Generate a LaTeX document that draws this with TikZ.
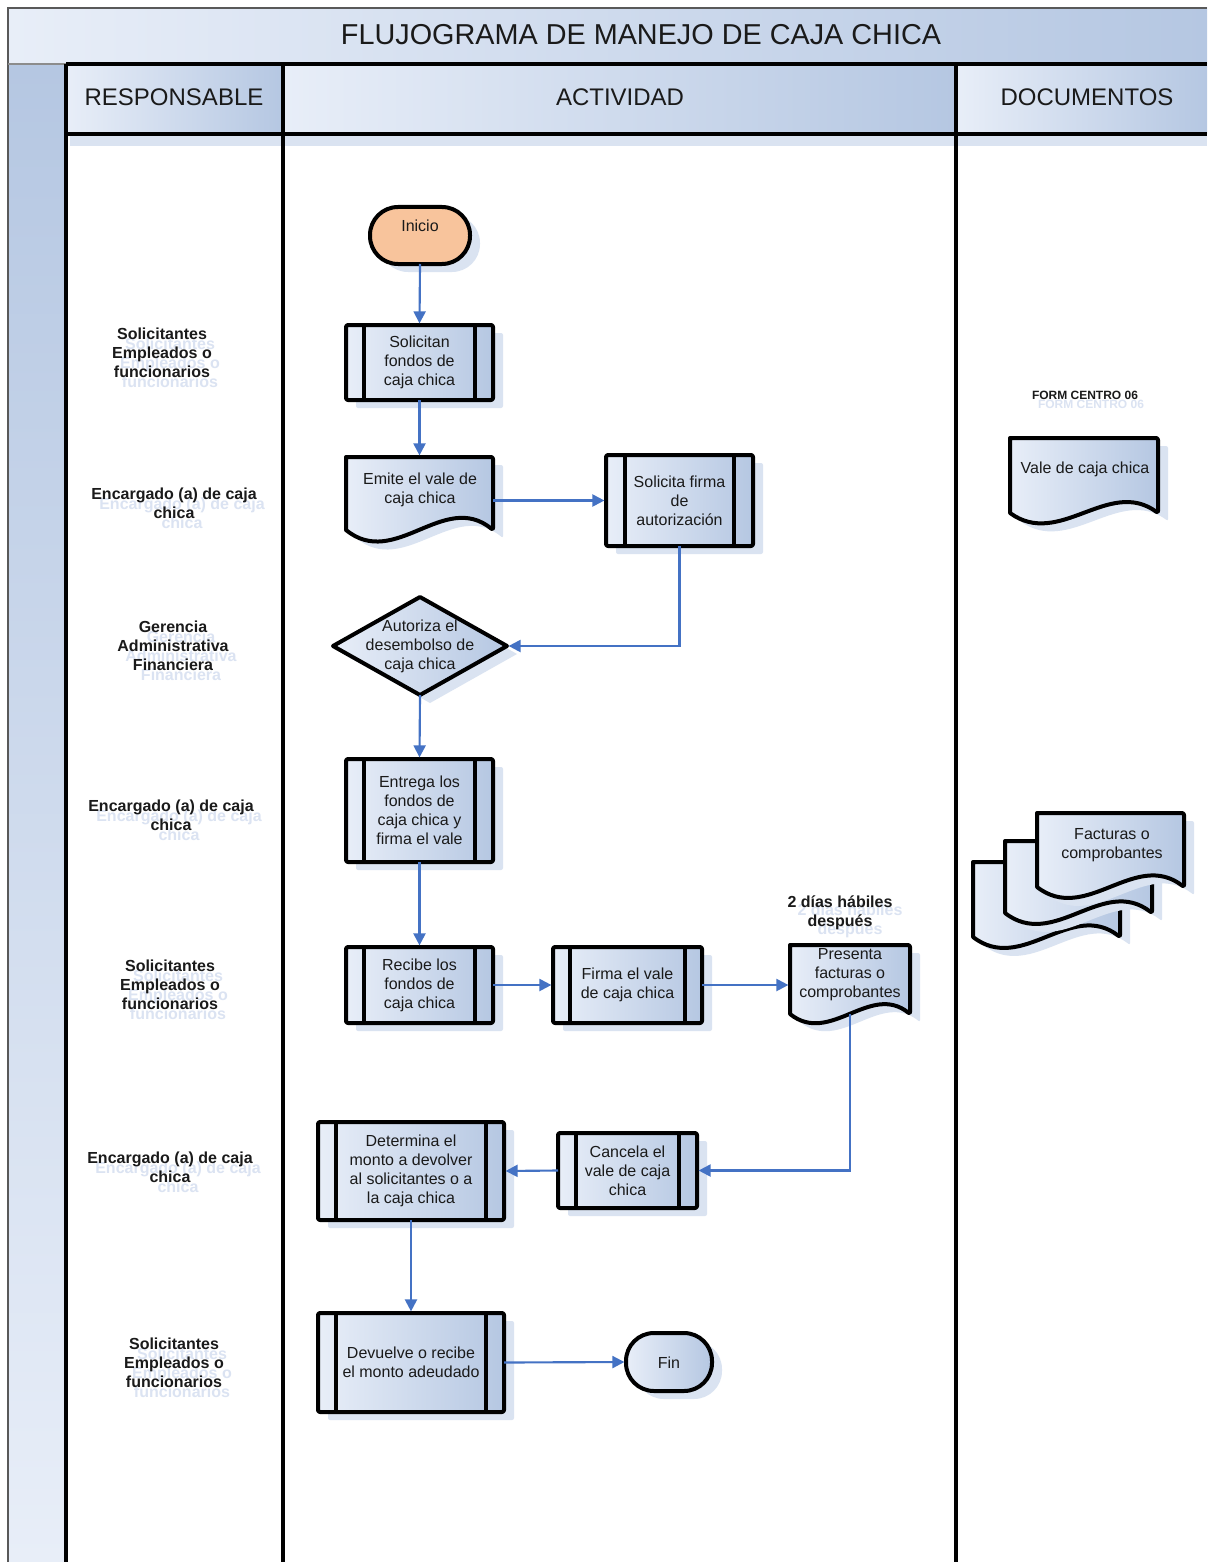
\documentclass[tikz,border=0pt]{standalone}
\usepackage{fontspec}
\setmainfont{Liberation Sans}
\usetikzlibrary{fit,arrows.meta}

\definecolor{flow}{HTML}{4472C4}
\definecolor{lite}{HTML}{E8EEF8}
\definecolor{deep}{HTML}{B5C7E2}
\definecolor{shad}{HTML}{DAE3F1}
\definecolor{ghost}{HTML}{DBE3F2}
\definecolor{peach}{HTML}{F8C49C}
\definecolor{ink}{HTML}{1A1A1A}

\tikzset{
  grad/.style={left color=lite, right color=deep},
  edge/.style={line width=3pt, line join=round},
  flowline/.style={draw=flow, line width=1.6pt, shorten >=1.2pt,
    -{Triangle[length=9pt,width=9pt]}},
  holder/.style={inner sep=0pt, outer sep=0pt},
  acttext/.style={font=\fontsize{12pt}{14.25pt}\selectfont, align=center, text=ink},
  roletext/.style={font=\fontsize{12pt}{14.25pt}\selectfont\bfseries, align=center, text=ink},
  headtext/.style={font=\fontsize{18pt}{20pt}\selectfont, text=ink},
}

% predefined-process box: name, x1, y1, x2, y2, side inset, text
\newcommand\procbox[7]{%
  \fill[shad, rounded corners=1.5pt] (#2+10,#3+8) rectangle (#4+10,#5+8);
  \node[holder, fit={(#2,#3) (#4,#5)}, grad, draw, edge, rounded corners=1.5pt] (#1) {};
  \draw[edge] (#2+#6,#3) -- (#2+#6,#5) (#4-#6,#3) -- (#4-#6,#5);
  \node[acttext] (#1-t) at (#1.center) {#7};
}
% document outline with a wavy lower edge: x1, y1, x2, ybase, amplitude, options
\newcommand\docshape[6]{%
  \path[#6, rounded corners=1.5pt] (#1,#2) -- (#3,#2) -- (#3,#4) [rounded corners=0pt]
    .. controls ({(2*(#3)+(#1))/3},{(#4)-(#5)}) and ({((#3)+2*(#1))/3},{(#4)+(#5)}) ..
    (#1,#4) -- cycle;
}
% document node: name, x1, y1, x2, ybase, amplitude
\newcommand\docbox[6]{%
  \docshape{#2+10}{#3+8}{#4+10}{#5+8}{#6}{fill=shad}
  \docshape{#2}{#3}{#4}{#5}{#6}{grad, draw, edge}
  \node[holder, fit={(#2,#3) (#4,#5)}] (#1) {};
}
% bold label with its pale offset copy: name, x, y, dx, dy, font size, text
\newcommand\rolelabel[7]{%
  \node[roletext, font=\fontsize{#6}{14.25pt}\selectfont\bfseries, text=ghost] (#1-g) at (#2+#4,#3+#5) {#7};
  \node[roletext, font=\fontsize{#6}{14.25pt}\selectfont\bfseries] (#1) at (#2,#3) {#7};
}

\begin{document}
\begin{tikzpicture}[x=0.75pt, y=-0.75pt]
\useasboundingbox (0,0) rectangle (1207,1562);
\fill[white] (0,0) rectangle (1207,1562);

% ---- frame, title band and column headers ----
\shade[left color=lite, right color=deep] (8,8) rectangle (1207,64);
\shade[top color=deep, bottom color=lite] (8,64) rectangle (66,1562);
\shade[grad] (66,64) rectangle (283,134);
\shade[grad] (283,64) rectangle (956,134);
\shade[grad] (956,64) rectangle (1207,134);
\fill[shad] (70,136) rectangle (1207,146);
\draw[black!65, line width=1.2pt] (8,1562) -- (8,8) -- (1207,8);
\draw[black!45, line width=0.8pt] (8,64) -- (66,64);
\draw[edge] (66,64) -- (1207,64) (66,134) -- (1207,134);
\draw[edge] (66,64) -- (66,1562) (283,64) -- (283,1562) (956,64) -- (956,1562);

\node[font=\fontsize{21.6pt}{24pt}\selectfont, text=ink] (title) at (641,35) {FLUJOGRAMA DE MANEJO DE CAJA CHICA};
\node[headtext] (hresp) at (174,97) {RESPONSABLE};
\node[headtext] (hact) at (620,97) {ACTIVIDAD};
\node[headtext] (hdoc) at (1087,97) {DOCUMENTOS};

% ---- responsible parties ----
\rolelabel{r1}{162}{353}{8}{10}{12pt}{Solicitantes\\Empleados o\\funcionarios}
\rolelabel{r2}{174}{503}{8}{10}{12pt}{Encargado (a) de caja\\chica}
\rolelabel{r3}{173}{646}{8}{10}{12pt}{Gerencia\\Administrativa\\Financiera}
\rolelabel{r4}{171}{815}{8}{10}{12pt}{Encargado (a) de caja\\chica}
\rolelabel{r5}{170}{985}{8}{10}{12pt}{Solicitantes\\Empleados o\\funcionarios}
\rolelabel{r6}{170}{1167}{8}{10}{12pt}{Encargado (a) de caja\\chica}
\rolelabel{r7}{174}{1363}{8}{10}{12pt}{Solicitantes\\Empleados o\\funcionarios}

% ---- activities ----
\fill[shad, rounded corners=21pt] (380,215) rectangle (480,272);
\node[holder, fit={(370,207) (470,264)}, fill=peach, draw, edge, rounded corners=21pt] (start) {};
\node[acttext] (start-t) at (420,226) {Inicio};

\procbox{p1}{346}{325}{493}{400}{18}{Solicitan\\fondos de\\caja chica}

\docbox{emite}{346}{457}{493}{530}{40}
\node[acttext] (emite-t) at (420,490) {Emite el vale de\\caja chica};

\procbox{sol}{606}{455}{753}{546}{19}{Solicita firma\\de\\autorización}

\fill[shad] (430,605) -- (517,654) -- (430,703) -- (343,654) -- cycle;
\node[holder, fit={(333,597) (507,695)}] (dec) {};
\path[grad, draw, edge] (dec.north) -- (dec.east) -- (dec.south) -- (dec.west) -- cycle;
\node[acttext] (dec-t) at (420,646) {Autoriza el\\desembolso de\\caja chica};

\procbox{entrega}{346}{759}{493}{862}{18}{Entrega los\\fondos de\\caja chica y\\firma el vale}
\procbox{recibe}{346}{947}{493}{1023}{18}{Recibe los\\fondos de\\caja chica}
\procbox{firma}{553}{947}{702}{1023}{17}{Firma el vale\\de caja chica}

\docbox{presenta}{790}{945}{910}{1014}{32}
\node[acttext] (presenta-t) at (850,975) {Presenta\\facturas o\\comprobantes};
\rolelabel{lag}{840}{913}{10}{8}{12pt}{2 días hábiles\\después}

\procbox{cancela}{558}{1133}{697}{1208}{18}{Cancela el\\vale de caja\\chica}
\procbox{determina}{318}{1122}{504}{1220}{18}{Determina el\\monto a devolver\\al solicitantes o a\\la caja chica}
\procbox{devuelve}{318}{1313}{504}{1412}{18}{Devuelve o recibe\\el monto adeudado}

\fill[shad, rounded corners=21pt] (636,1341) rectangle (722,1399);
\node[holder, fit={(626,1333) (712,1391)}, grad, draw, edge, rounded corners=21pt] (fin) {};
\node[acttext] (fin-t) at (669,1363) {Fin};

% ---- documents ----
\rolelabel{form}{1085}{395}{6}{9}{9pt}{FORM CENTRO 06}
\docbox{vale}{1010}{438}{1158}{513}{36}
\node[acttext] (vale-t) at (1085,469) {Vale de caja chica};

\docbox{fac3}{973}{862}{1120}{937}{38}
\docbox{fac2}{1005}{841}{1152}{913}{38}
\docbox{fac1}{1037}{813}{1184}{887}{38}
\node[acttext] (fac-t) at (1112,845) {Facturas o\\comprobantes};

% ---- flow ----
\draw[flowline] (start.south) -- (p1.north);
\draw[flowline] (p1.south) -- (emite.north);
\draw[flowline] (sol.west -| emite.east) -- (sol.west);
\draw[flowline] (sol.south) |- (dec.east);
\draw[flowline] (dec.south) -- (entrega.north);
\draw[flowline] (entrega.south) -- (recibe.north);
\draw[flowline] (recibe.east) -- (firma.west);
\draw[flowline] (firma.east) -- (firma.east -| presenta.west);
\draw[flowline] (presenta.south) |- (cancela.east);
\draw[flowline] (cancela.west) -- (determina.east);
\draw[flowline] (determina.south) -- (devuelve.north);
\draw[flowline] (devuelve.east) -- (fin.west);
\end{tikzpicture}
\end{document}
